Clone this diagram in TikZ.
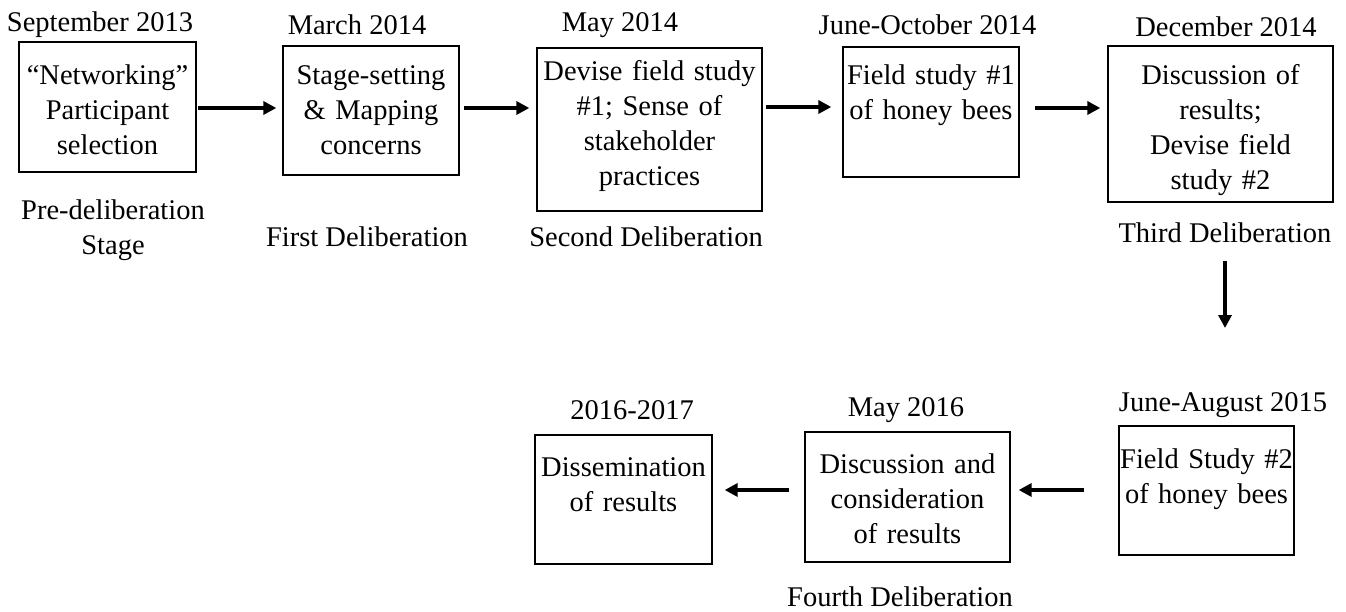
\documentclass[tikz,border=0pt]{standalone}
\usepackage{fontspec}
\setmainfont{Liberation Serif}
\usepackage{tikz}
\usetikzlibrary{arrows.meta, positioning}
\tikzset{stage/.style={draw=black, line width=1.3pt, align=center, inner sep=0pt, font=\fontsize{28.5}{35}\selectfont},
         datetext/.style={inner sep=0pt, font=\fontsize{28.5}{35}\selectfont},
         phasetext/.style={inner sep=0pt, align=center, font=\fontsize{28.5}{35}\selectfont},
         flow/.style={line width=3.6pt, -{Triangle[length=13pt,width=13pt]}}}

\begin{document}
\begin{tikzpicture}[x=1pt, y=-1pt]
                 \useasboundingbox (0,0) rectangle (1346,612);

                 % first row
                 \node[stage, text width=177pt, text height=43pt, text depth=87pt] (b1) at (107.5,107) {``Networking''\\Participant\\selection};
                 \node[stage, text width=176pt, text height=39pt, text depth=90pt] (b2) at (371,110.5) {Stage-setting\\\& Mapping\\concerns};
                 \node[stage, text width=225pt, text height=33pt, text depth=130pt] (b3) at (649.5,129.5) {Devise field study\\\#1; Sense of\\stakeholder\\practices};
                 \node[stage, text width=176pt, text height=38pt, text depth=92pt] (b4) at (931,112) {Field study \#1\\of honey bees};
                 \node[stage, text width=225pt, text height=39pt, text depth=117pt] (b5) at (1220.5,124) {Discussion of\\results;\\Devise field\\study \#2};

                 \node[datetext] (d1) at (100,25) {September 2013};
                 \node[datetext] (d2) at (357,25) {March 2014};
                 \node[datetext] (d3) at (620,25) {May 2014};
                 \node[datetext] (d4) at (927.5,25) {June-October 2014};
                 \node[datetext] (d5) at (1226,27) {December 2014};

                 \node[phasetext] (t1) at (113,230) {Pre-deliberation\\Stage};
                 \node[phasetext] (t2) at (367,237) {First Deliberation};
                 \node[phasetext] (t3) at (646,237) {Second Deliberation};
                 \node[phasetext] (t5) at (1225,233) {Third Deliberation};

%                 second row
                 \node[stage, text width=175pt, text height=42pt, text depth=87pt] (b6) at (1206.5,490.5) {Field Study \#2\\of honey bees};
                 \node[stage, text width=205pt, text height=41pt, text depth=89pt] (b7) at (907.5,497) {Discussion and\\consideration\\of results};
                 \node[stage, text width=177pt, text height=41pt, text depth=88pt] (b8) at (623.5,499.5) {Dissemination\\of results};

                 \node[datetext] (d6) at (1223,405) {June-August 2015};
                 \node[datetext] (d7) at (906,410) {May 2016};
                 \node[datetext] (d8) at (632,410) {2016-2017};

                 \node[phasetext] (t7) at (900,597) {Fourth Deliberation};

                 \coordinate (down) at (1225,328);

                 % arrows
                 \draw[flow, shorten <=1pt, shorten >=6pt] (b1.east |- 0,108) -- (b2.west |- 0,108);
                 \draw[flow, shorten <=4pt, shorten >=7pt] (b2.east |- 0,108) -- (b3.west |- 0,108);
                 \draw[flow, shorten <=3pt, shorten >=11pt] (b3.east |- 0,107) -- (b4.west |- 0,107);
                 \draw[flow, shorten <=15pt, shorten >=7pt] (b4.east |- 0,108) -- (b5.west |- 0,108);
                 \draw[flow, shorten <=18pt] (t5.south) -- (down);
                 \draw[flow, shorten <=34pt, shorten >=8pt] (b6.west |- 0,490) -- (b7.east |- 0,490);
                 \draw[flow, shorten <=15pt, shorten >=12pt] (b7.west |- 0,490) -- (b8.east |- 0,490);

\end{tikzpicture}
\end{document}
